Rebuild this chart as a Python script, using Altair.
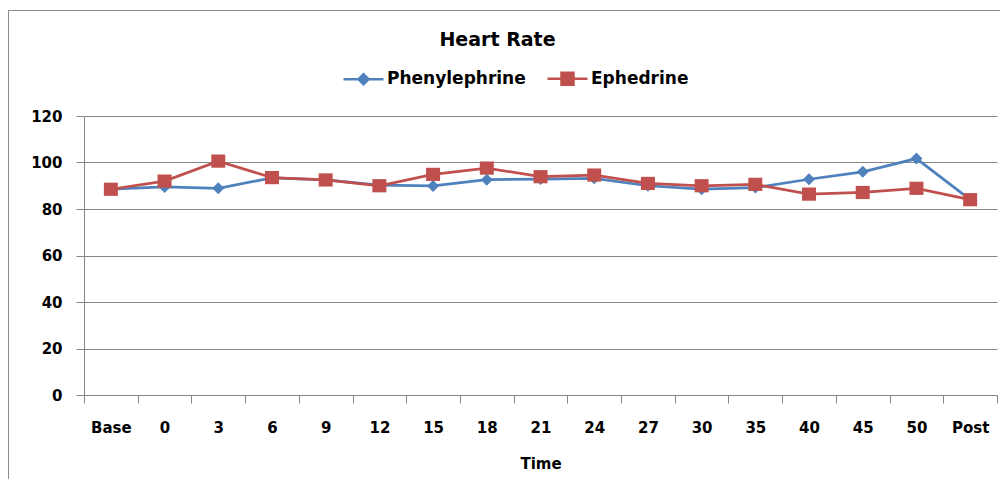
import altair as alt
import pandas as pd

times = ["Base", "0", "3", "6", "9", "12", "15", "18", "21", "24", "27", "30", "35", "40", "45", "50", "Post"]
phenylephrine = [88.5, 89.5, 88.9, 93.4, 92.5, 90.3, 89.9, 92.6, 92.9, 93.2, 90.0, 88.5, 89.2, 92.8, 96.0, 101.7, 84.0]
ephedrine = [88.5, 92.0, 100.6, 93.5, 92.5, 90.0, 94.9, 97.6, 93.9, 94.6, 91.0, 90.0, 90.6, 86.4, 87.1, 88.9, 84.0]
series_names = ["Phenylephrine", "Ephedrine"]
series_colors = ["#4F81BD", "#C0504D"]
y_ticks = [0, 20, 40, 60, 80, 100, 120]

# marker shapes (unit paths); legend versions carry the line segment
point_shapes = ["M0,-0.3L0.3,0L0,0.3L-0.3,0Z", "M-0.35,-0.33L0.35,-0.33L0.35,0.33L-0.35,0.33Z"]
legend_shapes = ["M-1,0L1,0M0,-0.25L0.25,0L0,0.25L-0.25,0Z",
                 "M-1,0L1,0M-0.3,-0.3L0.3,-0.3L0.3,0.3L-0.3,0.3Z"]

rows = []
for name, vals in zip(series_names, [phenylephrine, ephedrine]):
    for t, v in zip(times, vals):
        rows.append({"Time": t, "Series": name, "HR": v})
df = pd.DataFrame(rows)

FONT = "DejaVu Sans"
GRAY = "#868686"

x = alt.X("Time:N", sort=times,
          scale=alt.Scale(type="band", domain=times, paddingInner=0, paddingOuter=0),
          bandPosition=0.5,
          axis=alt.Axis(tickBand="extent", tickSize=8, labelPadding=17, labelAngle=0, grid=False,
                        titlePadding=21, titleFont=FONT, titleFontSize=15, titleFontWeight="bold",
                        titleColor="#000"),
          title="Time")
y = alt.Y("HR:Q", scale=alt.Scale(domain=[0, 120], nice=False, zero=True),
          axis=alt.Axis(values=y_ticks, tickSize=8, labelPadding=14, grid=True, format="d"),
          title=None)

base = alt.Chart(df)
layers = []
for name, col, shp in zip(series_names, series_colors, point_shapes):
    sub = base.transform_filter(alt.datum.Series == name)
    layers.append(sub.mark_line(strokeWidth=2.75, color=col).encode(x=x, y=y))
    layers.append(sub.mark_point(filled=True, shape=shp, size=1600, strokeWidth=0, opacity=1,
                                 color=col).encode(x=x, y=y))

leg = alt.Legend(orient="none", legendX=258, legendY=-59, direction="horizontal", title=None,
                 labelFont=FONT, labelFontSize=17, labelFontWeight="bold", labelColor="#000",
                 symbolSize=1600, symbolStrokeWidth=2.5, labelOffset=2, columnPadding=16, padding=0)
legend_layer = base.transform_filter("false").mark_point(filled=True, size=1600, strokeWidth=2.5, opacity=1).encode(
    x=x, y=y,
    fill=alt.Fill("Series:N", scale=alt.Scale(domain=series_names, range=series_colors), legend=leg),
    stroke=alt.Stroke("Series:N", scale=alt.Scale(domain=series_names, range=series_colors), legend=leg),
    shape=alt.Shape("Series:N", scale=alt.Scale(domain=series_names, range=legend_shapes), legend=leg),
)

frame_df = pd.DataFrame({"frame": [1]})
frame_top = alt.Chart(frame_df).mark_rule(color="#8c8c8c", strokeWidth=1).encode(
    x=alt.value(-76), x2=alt.value(1000), y=alt.value(-105.5))
frame_left = alt.Chart(frame_df).mark_rule(color="#8c8c8c", strokeWidth=1).encode(
    x=alt.value(-75.5), y=alt.value(-105.5), y2=alt.value(500))

chart = alt.layer(frame_top, frame_left, *layers, legend_layer).properties(
    width=913, height=279,
    background="white",
    autosize=alt.AutoSizeParams(type="none"),
    padding={"left": 76, "top": 108, "right": 3, "bottom": 84},
    title=alt.TitleParams("Heart Rate", font=FONT, fontSize=19, fontWeight="bold", color="#000",
                          anchor="middle", frame="group", dx=-43, dy=55, offset=0, baseline="alphabetic"),
).configure_view(stroke=None).configure_axis(
    labelFont=FONT, labelFontSize=15, labelFontWeight="bold", labelColor="#000",
    tickColor=GRAY, domainColor=GRAY, gridColor=GRAY, gridOpacity=1, domainWidth=1, tickWidth=1,
)

chart.save("out.html", embed_options={"renderer": "svg", "actions": False})
